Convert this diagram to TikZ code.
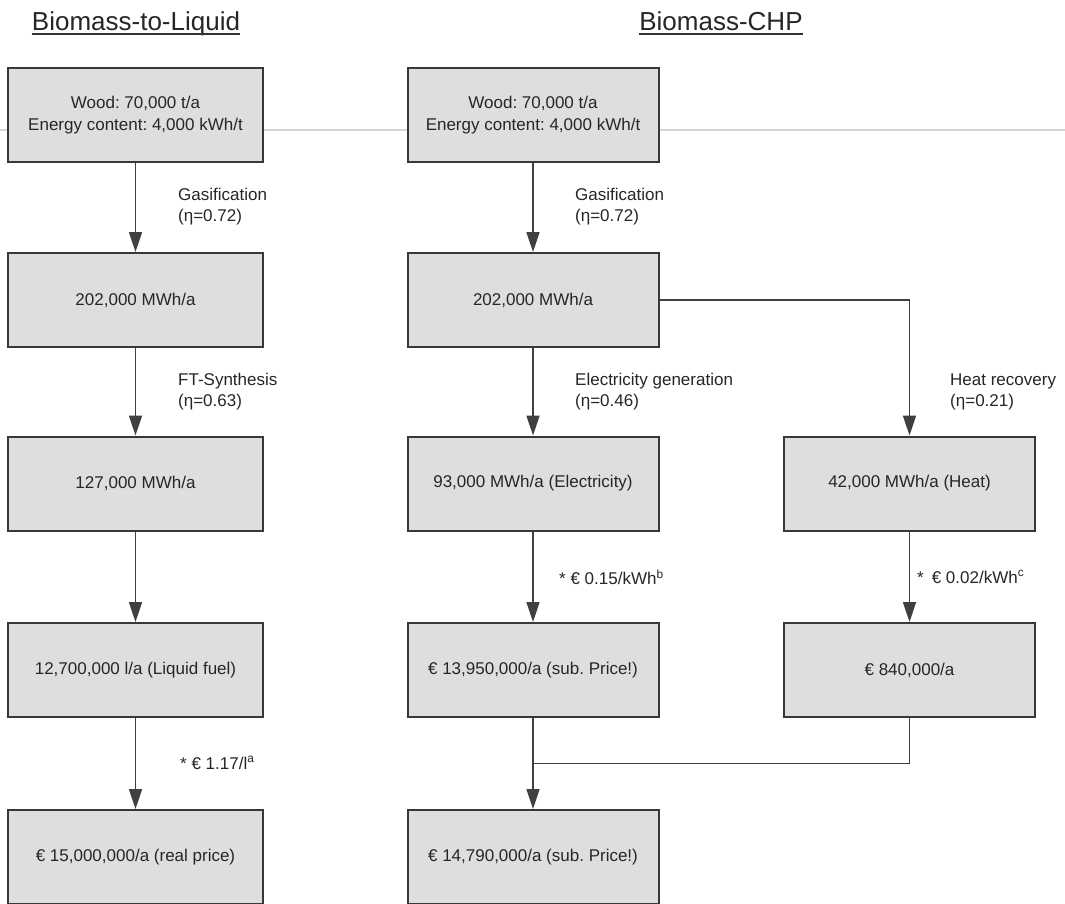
\documentclass[tikz,border=0pt]{standalone}
\usepackage{fontspec}
\setmainfont{Liberation Sans}
\usetikzlibrary{arrows.meta,calc}
\frenchspacing
\begin{document}
\begin{tikzpicture}[x=1pt,y=-1pt,
  stage/.style={draw=black!78, line width=2pt, fill=black!13, minimum height=94pt,
    text=black!85, font=\fontsize{17}{22}\selectfont, align=center, inner sep=0pt},
  colA/.style={stage, minimum width=255pt},
  colB/.style={stage, minimum width=251pt},
  flow/.style={draw=black!75, line width=1.7pt, -{Triangle[length=20pt,width=13pt]}},
  link/.style={draw=black!75, line width=1.7pt},
  step label/.style={anchor=west, align=left, text=black!85,
    font=\fontsize{17}{21}\selectfont, inner sep=0pt},
  heading/.style={text=black!85, font=\fontsize{26}{30}\selectfont, inner sep=0pt, anchor=base}
]
\useasboundingbox (0,0) rectangle (1065,903);
\fill[white] (0,0) rectangle (1065,903);

% faint crease across the sheet
\draw[black!16, line width=1.5pt] (0,130) -- (1065,130);

% headings
\node[heading] (t1) at (136,30) {Biomass-to-Liquid};
\node[heading] (t2) at (721,30) {Biomass-CHP};
\draw[black!80, line width=1.6pt] ($(t1.base west)+(0,4)$) -- ($(t1.base east)+(0,4)$);
\draw[black!80, line width=1.6pt] ($(t2.base west)+(0,4)$) -- ($(t2.base east)+(0,4)$);

% Biomass-to-Liquid chain
\node[colA] (a1) at (135.5,115) {Wood: 70,000 t/a\\Energy content: 4,000 kWh/t};
\node[colA] (a2) at (135.5,300) {202,000 MWh/a};
\node[colA] (a3) at (135.5,483.5) {127,000 MWh/a};
\node[colA] (a4) at (135.5,670) {12,700,000 l/a (Liquid fuel)};
\node[colA] (a5) at (135.5,857) {€ 15,000,000/a (real price)};

% Biomass-CHP chain
\node[colB] (b1) at (533,115) {Wood: 70,000 t/a\\Energy content: 4,000 kWh/t};
\node[colB] (b2) at (533,300) {202,000 MWh/a};
\node[colB] (b3) at (533,483.5) {93,000 MWh/a (Electricity)};
\node[colB] (b4) at (533,670) {€ 13,950,000/a (sub. Price!)};
\node[colB] (b5) at (533,857) {€ 14,790,000/a (sub. Price!)};
\node[colB] (c3) at (909.5,483.5) {42,000 MWh/a (Heat)};
\node[colB] (c4) at (909.5,670) {€ 840,000/a};

% connectors
\draw[flow] (a1.south) -- (a2.north);
\draw[flow] (a2.south) -- (a3.north);
\draw[flow] (a3.south) -- (a4.north);
\draw[flow] (a4.south) -- (a5.north);
\draw[flow] (b1.south) -- (b2.north);
\draw[flow] (b2.south) -- (b3.north);
\draw[flow] (b3.south) -- (b4.north);
\draw[flow] (b4.south) -- (b5.north);
\draw[flow] (b2.east) -| (c3.north);
\draw[flow] (c3.south) -- (c4.north);
\coordinate (join) at ($(b4.south)!0.5!(b5.north)$);
\draw[link] (c4.south) |- (join);

% step labels
\node[step label] (la1) at (178,206.5) {Gasification\\(η=0.72)};
\node[step label] (la2) at (178,392) {FT-Synthesis\\(η=0.63)};
\node[step label] (la4) at (180,763) {* € 1.17/l\textsuperscript{a}};
\node[step label] (lb1) at (575,206.5) {Gasification\\(η=0.72)};
\node[step label] (lb2) at (575,392) {Electricity generation\\(η=0.46)};
\node[step label] (lc2) at (950,392) {Heat recovery\\(η=0.21)};
\node[step label] (lb3) at (559,577) {* € 0.15/kWh\textsuperscript{b}};
\node[step label] (lc3) at (917,577) {*\hspace{8pt}€ 0.02/kWh\textsuperscript{c}};
\end{tikzpicture}
\end{document}
